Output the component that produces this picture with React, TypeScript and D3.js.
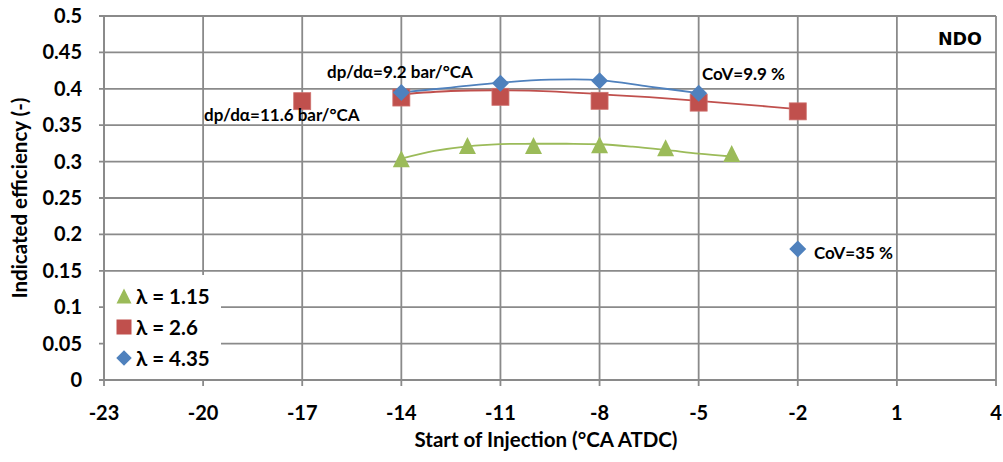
import React from "react";
import * as d3 from "d3";

const xTicks = [-23, -20, -17, -14, -11, -8, -5, -2, 1, 4];
const yTicks = [0, 0.05, 0.1, 0.15, 0.2, 0.25, 0.3, 0.35, 0.4, 0.45, 0.5];

const greenX = [-14, -12, -10, -8, -6, -4];
const greenY = [0.304, 0.322, 0.322, 0.323, 0.319, 0.311];
const redX = [-17, -14, -11, -8, -5, -2];
const redY = [0.383, 0.388, 0.389, 0.3835, 0.381, 0.369];
const blueX = [-14, -11, -8, -5, -2];
const blueY = [0.395, 0.4075, 0.411, 0.394, 0.18];

const greenTrendX = [-14, -13, -12, -11, -10, -9, -8, -7, -6, -5, -4];
const greenTrendY = [0.304, 0.3146, 0.321, 0.324, 0.3245, 0.3245, 0.3238, 0.3205, 0.316, 0.311, 0.307];
const redTrendX = [-14, -12.5, -11, -9.5, -8, -6.5, -5, -3.5, -2];
const redTrendY = [0.3925, 0.397, 0.398, 0.3965, 0.3925, 0.3885, 0.3835, 0.378, 0.372];
const blueTrendX = [-14, -12.5, -11, -9.5, -8, -6.5, -5];
const blueTrendY = [0.3952, 0.4017, 0.4085, 0.4125, 0.412, 0.403, 0.3942];

const legendLabels = ["λ = 1.15", "λ = 2.6", "λ = 4.35"];

const GREEN = "#9BBB59";
const RED = "#C0504D";
const BLUE = "#4F81BD";
const GRID = "#8a8a8a";
const FONT = "Lato, 'Open Sans', sans-serif";

const W = 1003, H = 462;
const L = 104, R = 996, T = 16, B = 380;

export default function App() {
  const x = d3.scaleLinear().domain([-23, 4]).range([L, R]);
  const y = d3.scaleLinear().domain([0, 0.5]).range([B, T]);
  const line = d3
    .line<[number, number]>()
    .x((d) => x(d[0]))
    .y((d) => y(d[1]))
    .curve(d3.curveCatmullRom.alpha(0.5));

  const zip = (a: number[], b: number[]) => a.map((v, i) => [v, b[i]] as [number, number]);

  const tri = (cx: number, cy: number, s: number) =>
    `M${cx},${cy - s / 2} L${cx + s / 2},${cy + s / 2} L${cx - s / 2},${cy + s / 2} Z`;
  const dia = (cx: number, cy: number, s: number) =>
    `M${cx},${cy - s / 2} L${cx + s / 2},${cy} L${cx},${cy + s / 2} L${cx - s / 2},${cy} Z`;

  const legY = [296, 327, 358];

  return (
    <svg width={W} height={H} style={{ position: "absolute", left: 0, top: 0, background: "#fff" }}>
      <rect x={0} y={0} width={W} height={H} fill="#fff" />
      {/* grid */}
      {yTicks.map((t) => (
        <line key={"gy" + t} x1={L - 5} x2={R} y1={y(t)} y2={y(t)} stroke={GRID} strokeWidth={1.8} />
      ))}
      {xTicks.map((t) => (
        <line key={"gx" + t} x1={x(t)} x2={x(t)} y1={T} y2={B + 6} stroke={GRID} strokeWidth={1.8} />
      ))}
      {/* legend background */}
      <rect x={L + 1} y={275} width={116} height={B - 276} fill="#fff" />
      <line x1={L} x2={L} y1={T} y2={B} stroke={GRID} strokeWidth={1.8} />
      <line x1={L - 5} x2={R} y1={B} y2={B} stroke={GRID} strokeWidth={1.8} />

      {/* tick labels */}
      {yTicks.map((t) => (
        <text key={"yl" + t} x={82} y={y(t) + 7} textAnchor="end" fontFamily={FONT} fontWeight={700} fontSize={20} fill="#000">
          {d3.format("")(+t.toFixed(2))}
        </text>
      ))}
      {xTicks.map((t) => (
        <text key={"xl" + t} x={x(t)} y={420} textAnchor="middle" fontFamily={FONT} fontWeight={700} fontSize={20} fill="#000">
          {t}
        </text>
      ))}
      <text x={546} y={447} textAnchor="middle" fontFamily={FONT} fontWeight={700} fontSize={20.5} fill="#000">
        Start of Injection (°CA ATDC)
      </text>
      <text transform={`translate(27,198) rotate(-90)`} textAnchor="middle" fontFamily={FONT} fontWeight={700} fontSize={20.5} fill="#000">
        Indicated efficiency (-)
      </text>

      {/* trend lines */}
      <path d={line(zip(greenTrendX, greenTrendY)) || ""} fill="none" stroke={GREEN} strokeWidth={1.8} />
      <path d={line(zip(redTrendX, redTrendY)) || ""} fill="none" stroke={RED} strokeWidth={1.8} />
      <path d={line(zip(blueTrendX, blueTrendY)) || ""} fill="none" stroke={BLUE} strokeWidth={1.8} />

      {/* markers */}
      {greenX.map((v, i) => (
        <path key={"g" + i} d={tri(x(v), y(greenY[i]), 17)} fill={GREEN} />
      ))}
      {redX.map((v, i) => (
        <rect key={"r" + i} x={x(v) - 8.5} y={y(redY[i]) - 8.5} width={17} height={17} fill={RED} stroke="#cf706d" strokeWidth={0.8} />
      ))}
      {blueX.map((v, i) => (
        <path key={"b" + i} d={dia(x(v), y(blueY[i]), 17)} fill={BLUE} />
      ))}

      {/* annotations */}
      <text x={327} y={78} fontFamily={FONT} fontWeight={700} fontSize={17} fill="#000">dp/dα=9.2 bar/°CA</text>
      <text x={204} y={120.5} fontFamily={FONT} fontWeight={700} fontSize={17} fill="#000">dp/dα=11.6 bar/°CA</text>
      <text x={702} y={80} fontFamily={FONT} fontWeight={700} fontSize={17} fill="#000">CoV=9.9 %</text>
      <text x={814} y={259} fontFamily={FONT} fontWeight={700} fontSize={17} fill="#000">CoV=35 %</text>
      <text x={982} y={44.5} textAnchor="end" fontFamily="'DejaVu Sans', sans-serif" fontWeight={700} fontSize={17.5} fill="#000">NDO</text>

      {/* legend */}
      <path d={tri(124, legY[0], 15)} fill={GREEN} />
      <rect x={124 - 7.5} y={legY[1] - 7.5} width={15} height={15} fill={RED} />
      <path d={dia(124, legY[2], 15.5)} fill={BLUE} />
      {legendLabels.map((s, i) => (
        <text key={s} x={136} y={legY[i] + 7.5} fontFamily={FONT} fontWeight={700} fontSize={20.5} fill="#000">{s}</text>
      ))}
    </svg>
  );
}
